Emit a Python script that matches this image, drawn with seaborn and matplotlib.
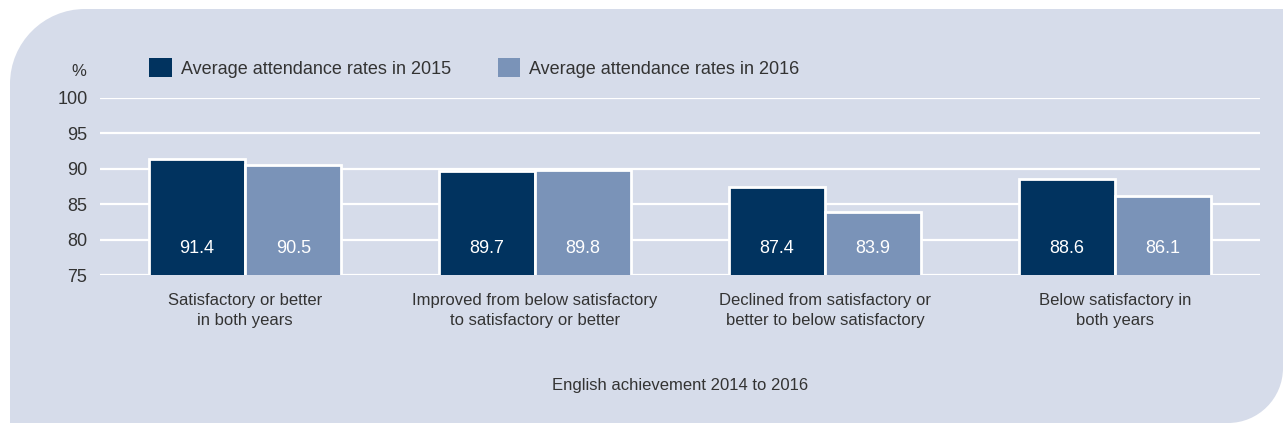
import matplotlib
matplotlib.use("Agg")
import matplotlib.pyplot as plt
from matplotlib.path import Path
from matplotlib.patches import PathPatch
import seaborn as sns
import pandas as pd

categories = [
    "Satisfactory or better\nin both years",
    "Improved from below satisfactory\nto satisfactory or better",
    "Declined from satisfactory or\nbetter to below satisfactory",
    "Below satisfactory in\nboth years",
]
series_names = ["Average attendance rates in 2015", "Average attendance rates in 2016"]
values_2015 = [91.4, 89.7, 87.4, 88.6]
values_2016 = [90.5, 89.8, 83.9, 86.1]
y_ticks = [75, 80, 85, 90, 95, 100]
x_title = "English achievement 2014 to 2016"

DARK = "#01335f"
LIGHT = "#7a93b8"
BG = "#d6dcea"
TXT = "#333333"

df = pd.DataFrame({
    "category": categories * 2,
    "series": [series_names[0]] * 4 + [series_names[1]] * 4,
    "value": values_2015 + values_2016,
})

sns.set_theme(style="white")
FONT = ["Liberation Sans Narrow", "Liberation Sans", "DejaVu Sans"]
plt.rcParams["font.family"] = FONT

W, H = 1283, 428
fig = plt.figure(figsize=(W / 100, H / 100), dpi=100)
fig.patch.set_facecolor("white")

# background panel with rounded top-left and bottom-right corners
x0, y0, x1, y1 = 10 / W, 5 / H, 1.0, 419 / H
r1x, r1y = 75 / W, 75 / H
r2x, r2y = 55 / W, 55 / H
k = 0.5523
verts = [
    (x0 + r1x, y1),
    (x1, y1),
    (x1, y0 + r2y),
    (x1, y0 + r2y * (1 - k)), (x1 - r2x * (1 - k), y0), (x1 - r2x, y0),
    (x0, y0),
    (x0, y1 - r1y),
    (x0, y1 - r1y * (1 - k)), (x0 + r1x * (1 - k), y1), (x0 + r1x, y1),
    (x0 + r1x, y1),
]
codes = [Path.MOVETO, Path.LINETO, Path.LINETO,
         Path.CURVE4, Path.CURVE4, Path.CURVE4,
         Path.LINETO, Path.LINETO,
         Path.CURVE4, Path.CURVE4, Path.CURVE4,
         Path.CLOSEPOLY]
fig.patches.append(PathPatch(Path(verts, codes), transform=fig.transFigure,
                             facecolor=BG, edgecolor="none", zorder=-10))

ax = fig.add_axes([100 / W, (H - 275) / H, 1160 / W, 177 / H])
ax.set_zorder(1)
ax.set_facecolor("none")

sns.barplot(data=df, x="category", y="value", hue="series",
            palette=[DARK, LIGHT], width=0.665, ax=ax,
            edgecolor="white", linewidth=2, saturation=1, zorder=3)

ax.set_ylim(75, 100)
ax.set_xlim(-0.5, 3.5)
ax.set_yticks(y_ticks)
ax.set_yticklabels([str(t) for t in y_ticks], fontsize=13, color=TXT)
ax.yaxis.grid(True, color="white", linewidth=1.6, zorder=0)
ax.set_axisbelow(True)
for s in ax.spines.values():
    s.set_visible(False)
ax.tick_params(axis="y", length=0, pad=9)
ax.tick_params(axis="x", length=0, pad=13)
ax.set_xticks(range(len(categories)))
ax.set_xticklabels(categories, fontsize=12, color=TXT, linespacing=1.4)
ax.set_ylabel("")
ax.set_xlabel(x_title, fontsize=12, color=TXT, labelpad=36)

# value labels inside bars
for cont in ax.containers:
    for patch, v in zip(cont.patches, cont.datavalues):
        ax.text(patch.get_x() + patch.get_width() / 2, 78.7, f"{v:.1f}",
                ha="center", va="center", color="white", fontsize=13, zorder=5)

ax.text(-14 / 1160, 100 + 25 * (27 / 177), "%", transform=ax.get_yaxis_transform(),
        ha="right", va="center", fontsize=12, color=TXT)

sns.move_legend(ax, "center left", bbox_to_anchor=(142 / W, (H - 68) / H),
                bbox_transform=fig.transFigure, ncol=2, frameon=False, title=None,
                fontsize=13, handlelength=1.25, handleheight=1.25,
                handletextpad=0.5, columnspacing=2.6, borderaxespad=0)
for t in ax.get_legend().get_texts():
    t.set_color(TXT)
for h in ax.get_legend().legend_handles:
    h.set_edgecolor("none")

fig.savefig("out.png", dpi=100, facecolor="white")
